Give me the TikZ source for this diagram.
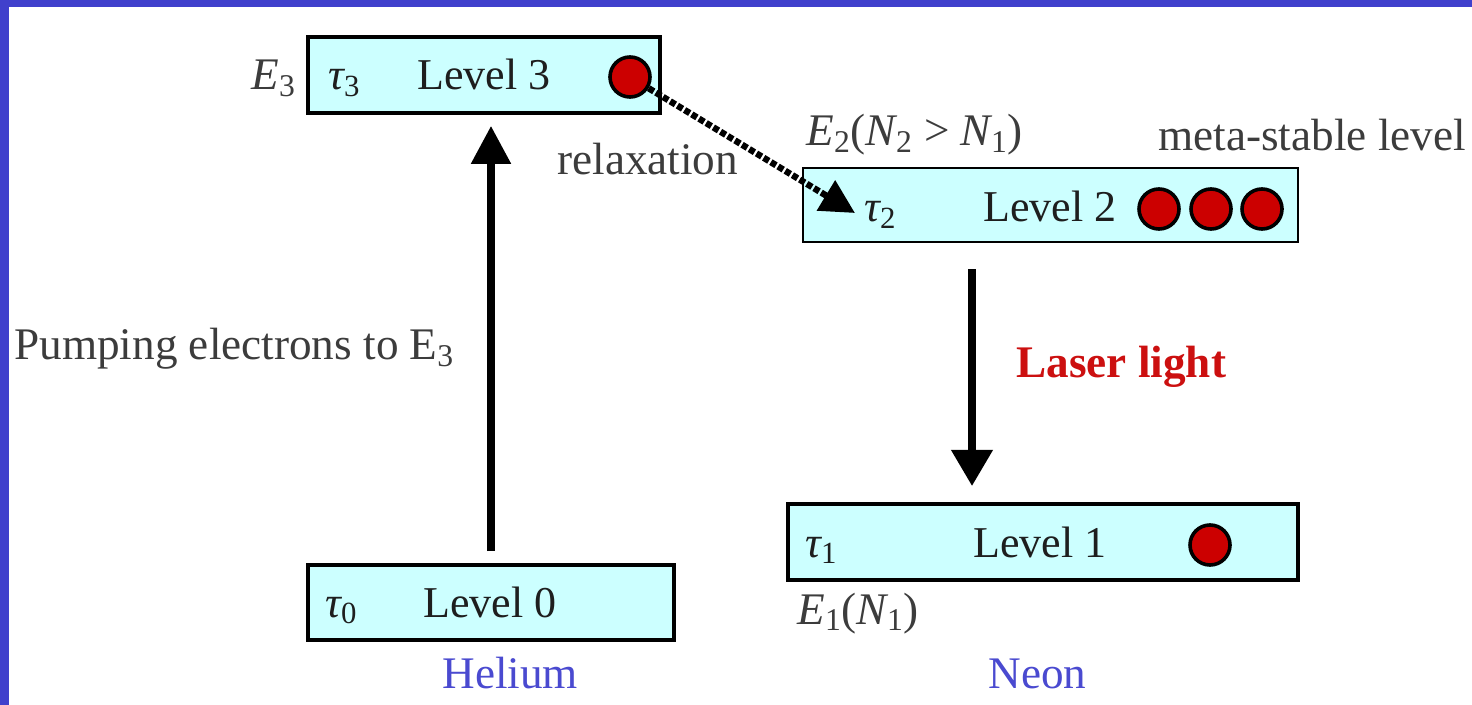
\documentclass[tikz,border=0pt]{standalone}
\usepackage{fontspec}
\setmainfont{Liberation Serif}
\usetikzlibrary{arrows.meta}
\definecolor{cyanbg}{HTML}{CCFFFF}
\definecolor{frameblue}{HTML}{4040CC}
\definecolor{dotred}{HTML}{CC0000}
\definecolor{txtgray}{HTML}{3C3C3C}
\definecolor{txtdark}{HTML}{1E1E1E}
\definecolor{gasblue}{HTML}{4A4AD0}
\definecolor{laserred}{HTML}{CC1010}
\begin{document}
\begin{tikzpicture}[x=0.5pt,y=-0.5pt,
  levelbox/.style={draw=black, fill=cyanbg, rectangle, inner sep=0pt},
  lbl/.style={anchor=base west, inner sep=0pt, font=\fontsize{22}{26}\selectfont},
  outlbl/.style={anchor=base west, inner sep=0pt, font=\fontsize{22.6}{27}\selectfont},
  electron/.style={circle, draw=black, fill=dotred, line width=1.8pt, minimum size=20pt, inner sep=0pt},
  bigarrow/.style={line width=4pt, -{Triangle[length=19pt,width=19pt]}},
  relaxarrow/.style={line width=3.2pt, dash pattern=on 3pt off 1.2pt, -{Triangle[length=17pt,width=17pt]}}
]
\useasboundingbox (0,0) rectangle (1472,705);
\fill[white] (0,0) rectangle (1472,705);
\fill[frameblue] (0,0) rectangle (1472,7);
\fill[frameblue] (0,0) rectangle (9,705);

% level boxes
\node[levelbox, line width=1.8pt, minimum width=176pt, minimum height=38pt] (lv3) at (484,75) {};
\node[levelbox, line width=1.3pt, minimum width=247.5pt, minimum height=37pt] (lv2) at (1050.5,205) {};
\node[levelbox, line width=2pt, minimum width=255pt, minimum height=38pt] (lv1) at (1043,542) {};
\node[levelbox, line width=2pt, minimum width=183pt, minimum height=37.5pt] (lv0) at (491,602.5) {};

% texts inside boxes
\node[lbl, txtdark] (t3) at (328,90) {\itshape τ\upshape\textsubscript{3}};
\node[lbl, txtdark] (l3) at (417,90) {Level 3};
\node[lbl, txtdark] (t2) at (864,222) {\itshape τ\upshape\textsubscript{2}};
\node[lbl, txtdark] (l2) at (983,222) {Level 2};
\node[lbl, txtdark] (t1) at (805,557) {\itshape τ\upshape\textsubscript{1}};
\node[lbl, txtdark] (l1) at (973,557) {Level 1};
\node[lbl, txtdark] (t0) at (325,617) {\itshape τ\upshape\textsubscript{0}};
\node[lbl, txtdark] (l0) at (423,617) {Level 0};

% electrons
\node[electron] (e3) at (630,77) {};
\node[electron] (e2a) at (1159,209) {};
\node[electron] (e2b) at (1211,209) {};
\node[electron] (e2c) at (1262,209) {};
\node[electron] (e1) at (1210,545) {};

% outside labels
\node[outlbl, txtgray] (E3) at (251,90) {\itshape E\upshape\textsubscript{3}};
\node[outlbl, txtgray] (E2) at (806,146) {\itshape E\upshape\textsubscript{2}(\itshape N\upshape\textsubscript{2} > \itshape N\upshape\textsubscript{1})};
\node[outlbl, txtgray] (E1) at (797,624) {\itshape E\upshape\textsubscript{1}(\itshape N\upshape\textsubscript{1})};
\node[outlbl, txtgray] (meta) at (1158,151) {meta-stable level};
\node[outlbl, txtgray] (relax) at (557,175) {relaxation};
\node[outlbl, txtgray] (pump) at (14,360) {Pumping electrons to E\textsubscript{3}};
\node[outlbl, laserred, font=\fontsize{22.6}{27}\selectfont\bfseries] (laser) at (1016,378) {Laser light};
\node[outlbl, gasblue] (he) at (442,688) {Helium};
\node[outlbl, gasblue] (ne) at (988,688) {Neon};

% connectors
\coordinate (pumpx) at (491,0);
\coordinate (laserx) at (972,0);
\coordinate (relaxend) at (855,213);
\draw[bigarrow, shorten <=6pt, shorten >=5.5pt] (lv0.north -| pumpx) -- (lv3.south -| pumpx);
\draw[bigarrow, line width=3.6pt, -{Triangle[length=18pt,width=20pt]}, shorten <=13pt, shorten >=8pt] (lv2.south -| laserx) -- (lv1.north -| laserx);
\draw[relaxarrow] (e3) -- (relaxend);
\end{tikzpicture}
\end{document}
